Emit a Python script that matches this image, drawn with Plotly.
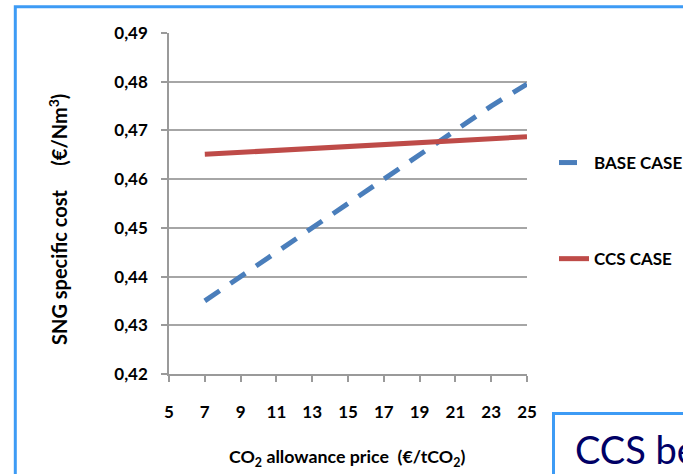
import plotly.graph_objects as go

# CO2 allowance price (€/tCO2)
co2_price = [7, 9, 11, 13, 15, 17, 19, 21, 23, 25]
# SNG specific cost (€/Nm3)
base_case = [0.435, 0.440, 0.445, 0.450, 0.455, 0.460, 0.465, 0.470, 0.475, 0.4795]
ccs_case = [0.4651, 0.4655, 0.4659, 0.4663, 0.4667, 0.4671, 0.4675, 0.4679, 0.4683, 0.4687]

x_ticks = [5, 7, 9, 11, 13, 15, 17, 19, 21, 23, 25]
y_ticks = [0.42, 0.43, 0.44, 0.45, 0.46, 0.47, 0.48, 0.49]

W, H = 683, 474
L, R, T, B = 169, 156, 33, 100
PW, PH = W - L - R, H - T - B


def px(x):
    return (x - L) / PW


def py(y):
    return (H - B - y) / PH


FONT = "Lato"
BORDER_BLUE = "#3d9bf5"

fig = go.Figure()
fig.add_trace(go.Scatter(
    x=co2_price, y=base_case, mode="lines", name="BASE CASE",
    line=dict(color="#4a7ebb", width=5, dash="18px,13px"),
    legendgroup="base",
))
fig.add_trace(go.Scatter(
    x=co2_price, y=ccs_case, mode="lines", name="CCS CASE",
    line=dict(color="#be4b48", width=5),
    legendgroup="ccs",
))

fig.update_layout(
    width=W, height=H,
    margin=dict(l=L, r=R, t=T, b=B, autoexpand=False),
    paper_bgcolor="white", plot_bgcolor="white",
    separators=", ",
    font=dict(family=FONT, color="black"),
    showlegend=True,
    legend=dict(
        x=px(554), y=py(145), xanchor="left", yanchor="top",
        font=dict(family=FONT, size=17, weight="bold", color="black"),
        tracegroupgap=71, bgcolor="rgba(0,0,0,0)",
    ),
    xaxis=dict(
        range=[5, 25], tickvals=x_ticks, showgrid=False, zeroline=False,
        showline=True, linecolor="#9a9a9a", linewidth=1.5,
        ticks="outside", ticklen=6, tickcolor="#9a9a9a", tickwidth=1.5,
        tickfont=dict(family=FONT, size=17, weight="bold", color="black"),
        ticklabelstandoff=16, automargin=False,
    ),
    yaxis=dict(
        range=[0.42, 0.49], tickvals=y_ticks, tickformat=".2f",
        showgrid=True, gridcolor="#a6a6a6", gridwidth=1.5, zeroline=False,
        showline=True, linecolor="#9a9a9a", linewidth=1.5,
        ticks="outside", ticklen=6, tickcolor="#9a9a9a", tickwidth=1.5,
        tickfont=dict(family=FONT, size=17, weight="bold", color="black"),
        ticklabelstandoff=10, automargin=False,
    ),
    shapes=[
        # outer frame of the chart
        dict(type="rect", xref="paper", yref="paper",
             x0=px(15.3), x1=px(720), y0=py(6.7), y1=py(520),
             line=dict(color=BORDER_BLUE, width=3), layer="below"),
        # callout box in the lower right corner
        dict(type="rect", xref="paper", yref="paper",
             x0=px(553.5), x1=px(720), y0=py(413.5), y1=py(520),
             line=dict(color=BORDER_BLUE, width=3), fillcolor="white",
             layer="above"),
    ],
    annotations=[
        dict(text="SNG specific cost\u00a0\u00a0\u00a0\u00a0\u00a0(€/Nm<sup>3</sup>)",
             xref="paper", yref="paper", x=px(58), y=py(220),
             xanchor="center", yanchor="middle", textangle=-90,
             showarrow=False,
             font=dict(family=FONT, size=20, weight="bold", color="black")),
        dict(text="CO<sub>2</sub> allowance price\u00a0\u00a0(€/tCO<sub>2</sub>)",
             xref="paper", yref="paper", x=px(347), y=py(457),
             xanchor="center", yanchor="middle", showarrow=False,
             font=dict(family=FONT, size=17.8, weight="bold", color="black")),
        dict(text="CCS be", xref="paper", yref="paper",
             x=px(573), y=py(449), xanchor="left", yanchor="middle",
             showarrow=False,
             font=dict(family=FONT, size=38, color="#000066")),
    ],
)

fig.write_html("out.html")
